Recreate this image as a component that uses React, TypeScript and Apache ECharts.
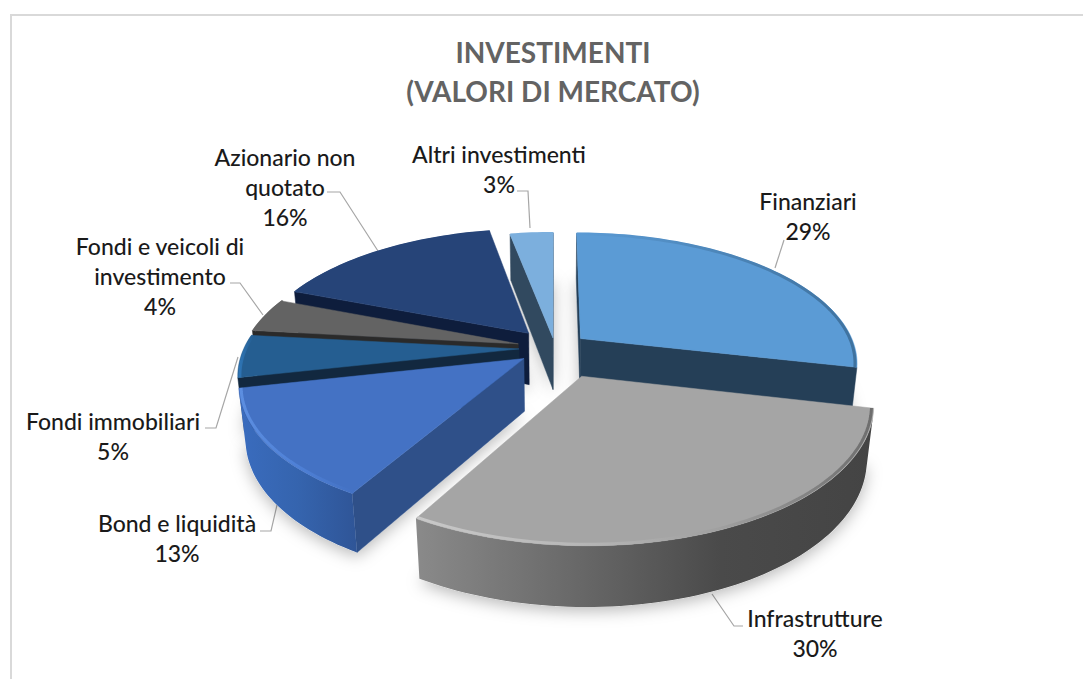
import React, { useEffect, useRef } from "react";
import * as echarts from "echarts";

const titleLines = ["INVESTIMENTI", "(VALORI DI MERCATO)"];
const categories = [
  "Finanziari",
  "Infrastrutture",
  "Bond e liquidità",
  "Fondi immobiliari",
  "Fondi e veicoli di\ninvestimento",
  "Azionario non\nquotato",
  "Altri investimenti",
];
const shares = [28.6, 29.8, 13.2, 5.2, 4.2, 16.1, 3.0];

// styling, per slice
const topColors = ["#5B9BD5", "#A5A5A5", "#4472C4", "#255E91", "#636363", "#264478", "#7CAFDD"];
const faceColors = ["#253F57", "#444444", "#2F5089", "#12283F", "#2A2A2A", "#0E1D3C", "#31495F"];
const wallStops = [
  ["#2C5475", "#3A6E9C"],
  ["#8A8A8A", "#6A6A6A", "#4A4A4A", "#444444"],
  ["#3A6CBE", "#3564AE", "#2F5597"],
  ["#2A6BA6", "#1C4A73"],
  ["#555555", "#444444"],
  ["#1C3560", "#1C3560"],
  ["#5F8FBD", "#5F8FBD"],
];
const rimStops = [
  ["#5B9BD5", "#3F729F"],
  ["#C8C8C8", "#B8B8B8", "#A0A0A0", "#6E6E6E"],
  ["#5C8EE0", "#4E80D6", "#4472C4"],
  ["#2E74B4", "#255E91"],
  ["#636363", "#636363"],
  ["#264478", "#264478"],
  ["#7CAFDD", "#7CAFDD"],
];
const explode = [33, 64, 38, 36, 38, 42, 22];
const paintOrder = [5, 7, 6, 4, 3, 1, 2];

// projection
const CX = 555, CY = 348, R = 275, DEPTH = 60, D = 1354;
const TILT = (27.6 * Math.PI) / 180;
const project = (x: number, z: number, h: number): number[] => {
  const s = D / (D + z * Math.cos(TILT) + h * Math.sin(TILT));
  return [CX + x * s, CY + (-z * Math.sin(TILT) + h * Math.cos(TILT)) * s];
};
const area = (p: number[][]) =>
  p.reduce((a, q, i) => {
    const n = p[(i + 1) % p.length];
    return a + q[0] * n[1] - n[0] * q[1];
  }, 0);
const grad = (stops: string[]) => ({
  type: "linear", x: 0, y: 0, x2: 1, y2: 0, global: false,
  colorStops: stops.map((color, i) => ({ offset: i / (stops.length - 1), color })),
});

const total = shares.reduce((a, b) => a + b, 0);

function renderSlice(params: any, api: any) {
  const i = params.dataIndex;
  const value = api.value(0);
  const before = shares.slice(0, i).reduce((a, b) => a + b, 0);
  const a0 = (before / total) * 2 * Math.PI;
  const a1 = ((before + value) / total) * 2 * Math.PI;
  const mid = (a0 + a1) / 2;
  const ox = Math.sin(mid) * explode[i];
  const oz = Math.cos(mid) * explode[i];
  const pt = (a: number, r: number, h: number) =>
    project(ox + Math.sin(a) * r, oz + Math.cos(a) * r, h);
  const n = Math.max(4, Math.ceil((a1 - a0) / (Math.PI / 120)));
  const angs = Array.from({ length: n + 1 }, (_, k) => a0 + ((a1 - a0) * k) / n);
  const base = paintOrder[i] * 10;
  const children: any[] = [];
  const poly = (points: number[][], fill: any, z: number, extra: any = {}) =>
    children.push({
      type: "polygon", shape: { points }, z2: base + z, silent: true,
      style: { fill, stroke: typeof fill === "string" ? fill : "none", lineWidth: 0.5, ...extra },
    });

  // soft shadow under the slice
  const bottom = [pt(a0, 0, DEPTH), ...angs.map((a) => pt(a, R, DEPTH))];
  children.push({
    type: "polygon", shape: { points: bottom }, z2: -10, silent: true,
    style: { fill: "#ffffff", shadowBlur: 16, shadowColor: "rgba(0,0,0,0.28)", shadowOffsetX: 0, shadowOffsetY: 4 },
  });

  // radial cut faces
  const startFace = [pt(a0, 0, 0), pt(a0, R, 0), pt(a0, R, DEPTH), pt(a0, 0, DEPTH)];
  if (area(startFace) < 0) poly(startFace, faceColors[i], 1);
  const endFace = [pt(a1, R, 0), pt(a1, 0, 0), pt(a1, 0, DEPTH), pt(a1, R, DEPTH)];
  if (area(endFace) < 0) poly(endFace, faceColors[i], 1);

  // outer wall: only the ranges that face the viewer
  let run: number[] = [];
  const flush = () => {
    if (run.length > 1) {
      const top = run.map((a) => pt(a, R, 0));
      const bot = run.map((a) => pt(a, R, DEPTH)).reverse();
      poly([...top, ...bot], grad(wallStops[i]), 2);
    }
    run = [];
  };
  for (let k = 0; k < n; k++) {
    const q = [pt(angs[k], R, 0), pt(angs[k + 1], R, 0), pt(angs[k + 1], R, DEPTH), pt(angs[k], R, DEPTH)];
    if (area(q) < 0) {
      if (!run.length) run.push(angs[k]);
      run.push(angs[k + 1]);
    } else flush();
  }
  flush();

  // top surface
  poly([pt(a0, 0, 0), ...angs.map((a) => pt(a, R, 0))], topColors[i], 3);
  // bevel along the rim
  children.push({
    type: "polyline", shape: { points: angs.map((a) => pt(a, R - 2, 0)) }, z2: base + 4, silent: true,
    style: { fill: "none", stroke: grad(rimStops[i]), lineWidth: 3 },
  });
  return { type: "group", children };
}

const labelAnchors = [
  [808, 216], [815, 633], [177, 538], [113, 436], [160, 276], [285, 187], [499, 169],
];
const leaderLines = [
  [[775, 268], [784, 240]],
  [[743, 626], [734, 626], [712, 594]],
  [[260, 531], [271, 531], [277, 505]],
  [[205, 428], [216, 428], [238, 357]],
  [[230, 283], [240, 283], [263, 315]],
  [[327, 192], [340, 192], [378, 251]],
  [[517, 191], [528, 191], [530, 228]],
];

export default function App() {
  const ref = useRef<HTMLDivElement>(null);
  useEffect(() => {
    const chart = echarts.init(ref.current!, undefined, { renderer: "svg", width: 1083, height: 679 });
    const FONT = "Lato, 'Open Sans', sans-serif";
    chart.setOption({
      animation: false,
      backgroundColor: "#ffffff",
      series: [
        {
          type: "custom",
          coordinateSystem: "none",
          renderItem: renderSlice,
          silent: true,
          clip: false,
          data: shares.map((v, i) => ({ name: categories[i], value: [v] })),
        },
      ],
      graphic: [
        { type: "line", silent: true, shape: { x1: 11, y1: 15, x2: 1083, y2: 15 }, style: { stroke: "#D9D9D9", lineWidth: 2 } },
        { type: "line", silent: true, shape: { x1: 11, y1: 14, x2: 11, y2: 679 }, style: { stroke: "#D9D9D9", lineWidth: 2 } },
        ...titleLines.map((t, i) => ({
          type: "text", silent: true, x: 553, y: 52 + i * 39,
          style: { text: t, fill: "#636363", font: `700 28px ${FONT}`, align: "center", verticalAlign: "middle" },
        })),
        ...leaderLines.map((points) => ({
          type: "polyline", silent: true, shape: { points },
          style: { fill: "none", stroke: "#A6A6A6", lineWidth: 1.2 },
        })),
        ...categories.map((c, i) => ({
          type: "text", silent: true, x: labelAnchors[i][0], y: labelAnchors[i][1],
          style: {
            text: `${c}\n${Math.round(shares[i])}%`, fill: "#1A1A1A", font: `500 23px ${FONT}`,
            align: "center", verticalAlign: "middle", lineHeight: 30,
          },
        })),
      ],
    });
    return () => chart.dispose();
  }, []);
  return <div ref={ref} style={{ position: "fixed", left: 0, top: 0, width: 1083, height: 679 }} />;
}
